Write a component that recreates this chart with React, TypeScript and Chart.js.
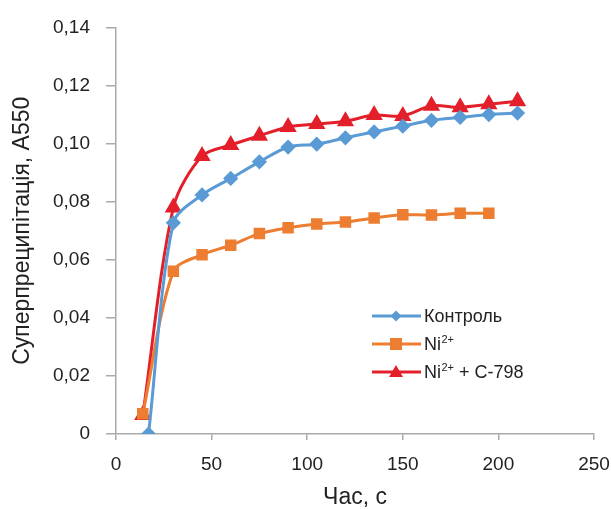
import { useEffect, useRef } from "react";
import { Chart, registerables } from "chart.js";

Chart.register(...registerables);

const timeControl = [17, 30, 45, 60, 75, 90, 105, 120, 135, 150, 165, 180, 195, 210];
const valuesControl = [0.0, 0.0727, 0.0823, 0.088, 0.0937, 0.0988, 0.0998, 0.102, 0.104, 0.106, 0.108, 0.109, 0.110, 0.1105];

const timeNi = [14, 30, 45, 60, 75, 90, 105, 120, 135, 150, 165, 180, 195];
const valuesNi = [0.007, 0.056, 0.0617, 0.065, 0.069, 0.071, 0.0723, 0.073, 0.0744, 0.0755, 0.0754, 0.076, 0.076];

const timeNiC = [14, 30, 45, 60, 75, 90, 105, 120, 135, 150, 165, 180, 195, 210];
const valuesNiC = [0.0065, 0.078, 0.0957, 0.0995, 0.1027, 0.1057, 0.1067, 0.1077, 0.1098, 0.1095, 0.113, 0.1125, 0.1135, 0.1146];

const legendLabels = [
  { base: "Контроль", sup: "", rest: "" },
  { base: "Ni", sup: "2+", rest: "" },
  { base: "Ni", sup: "2+", rest: " + C-798" },
];

const xTicks = [0, 50, 100, 150, 200, 250];
const yTicks = [0, 0.02, 0.04, 0.06, 0.08, 0.1, 0.12, 0.14];

const BLUE = "#5B9BD5";
const ORANGE = "#ED7D31";
const RED = "#E3202A";
const FONT = "'Liberation Sans', Arial, sans-serif";

const toPts = (xs: number[], ys: number[]) => xs.map((x, i) => ({ x, y: ys[i] }));

export default function App() {
  const ref = useRef<HTMLCanvasElement | null>(null);

  useEffect(() => {
    if (!ref.current) return;
    const styles = [
      { color: BLUE, style: "rectRot", r: 5.5 },
      { color: ORANGE, style: "rect", r: 6 },
      { color: RED, style: "triangle", r: 7 },
    ];
    const legendPlugin = {
      id: "customLegend",
      afterDraw(chart: any) {
        const ctx = chart.ctx;
        ctx.save();
        const rows = [316, 344, 372];
        legendLabels.forEach((l, i) => {
          const y = rows[i];
          const s = styles[i];
          ctx.strokeStyle = s.color;
          ctx.lineWidth = 3;
          ctx.beginPath();
          ctx.moveTo(372, y);
          ctx.lineTo(421, y);
          ctx.stroke();
          ctx.fillStyle = s.color;
          const cx = 396;
          ctx.beginPath();
          if (s.style === "rectRot") {
            ctx.moveTo(cx, y - s.r);
            ctx.lineTo(cx + s.r, y);
            ctx.lineTo(cx, y + s.r);
            ctx.lineTo(cx - s.r, y);
          } else if (s.style === "rect") {
            ctx.rect(cx - s.r, y - s.r, s.r * 2, s.r * 2);
          } else {
            ctx.moveTo(cx, y - s.r);
            ctx.lineTo(cx + s.r, y + s.r * 0.7);
            ctx.lineTo(cx - s.r, y + s.r * 0.7);
          }
          ctx.closePath();
          ctx.fill();
          ctx.fillStyle = "#222";
          ctx.textBaseline = "middle";
          ctx.textAlign = "left";
          ctx.font = `18px ${FONT}`;
          let x = 424;
          ctx.fillText(l.base, x, y + 1);
          x += ctx.measureText(l.base).width;
          if (l.sup) {
            ctx.font = `11px ${FONT}`;
            ctx.fillText(l.sup, x + 0.5, y - 4);
            x += ctx.measureText(l.sup).width + 0.5;
          }
          if (l.rest) {
            ctx.font = `18px ${FONT}`;
            ctx.fillText(l.rest, x, y + 1);
          }
        });
        ctx.restore();
      },
    };

    const chart = new Chart(ref.current, {
      type: "line",
      data: {
        datasets: [
          {
            label: "Контроль",
            data: toPts(timeControl, valuesControl),
            borderColor: BLUE,
            backgroundColor: BLUE,
            pointStyle: "rectRot",
            pointRadius: 5.5,
            borderWidth: 3,
            tension: 0.3,
          },
          {
            label: "Ni2+",
            data: toPts(timeNi, valuesNi),
            borderColor: ORANGE,
            backgroundColor: ORANGE,
            pointStyle: "rect",
            pointRadius: 6,
            borderWidth: 3,
            tension: 0.3,
          },
          {
            label: "Ni2+ + C-798",
            data: toPts(timeNiC, valuesNiC),
            borderColor: RED,
            backgroundColor: RED,
            pointStyle: "triangle",
            pointRadius: 7,
            borderWidth: 3,
            tension: 0.3,
          },
        ],
      },
      options: {
        animation: false,
        responsive: false,
        maintainAspectRatio: false,
        layout: { padding: { left: 0, right: 0, top: 26, bottom: 0 } },
        plugins: { legend: { display: false }, tooltip: { enabled: false } },
        scales: {
          x: {
            type: "linear",
            min: 0,
            max: 250,
            afterBuildTicks: (scale: any) => {
              scale.ticks = xTicks.map((v) => ({ value: v }));
            },
            afterFit: (scale: any) => {
              scale.height = 75;
              scale.paddingRight = 17;
              scale.paddingLeft = 0;
            },
            ticks: {
              color: "#222",
              font: { family: FONT, size: 19 },
              padding: 13,
              maxRotation: 0,
            },
            grid: { drawOnChartArea: false, drawTicks: true, tickLength: 6, color: "#aaa", lineWidth: 1.5 },
            border: { display: true, color: "#aaa", width: 1.5 },
            title: {
              display: true,
              text: "Час, с",
              color: "#222",
              font: { family: FONT, size: 23 },
              padding: { top: 0, bottom: -2 },
            },
          },
          y: {
            type: "linear",
            min: 0,
            max: 0.14,
            afterBuildTicks: (scale: any) => {
              scale.ticks = yTicks.map((v) => ({ value: v }));
            },
            afterFit: (scale: any) => {
              scale.width = 116;
            },
            ticks: {
              color: "#222",
              font: { family: FONT, size: 19 },
              padding: 16,
              callback: (v: any) => (v === 0 ? "0" : Number(v).toFixed(2).replace(".", ",")),
            },
            grid: { drawOnChartArea: false, drawTicks: true, tickLength: 10, color: "#aaa", lineWidth: 1.5 },
            border: { display: true, color: "#aaa", width: 1.5 },
            title: {
              display: true,
              text: "Суперпреципітація, A550",
              color: "#222",
              font: { family: FONT, size: 23 },
              padding: { top: 9, bottom: 0 },
            },
          },
        },
      },
      plugins: [legendPlugin],
    } as any);
    return () => chart.destroy();
  }, []);

  return (
    <div style={{ position: "absolute", left: 0, top: 0, width: 611, height: 509, background: "#fff" }}>
      <canvas ref={ref} width={611} height={509} style={{ width: 611, height: 509 }} />
    </div>
  );
}
